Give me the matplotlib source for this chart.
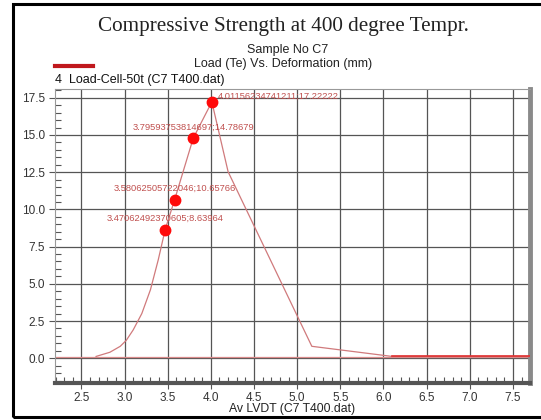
import numpy as np
import matplotlib.pyplot as plt
from matplotlib.patches import Rectangle
from matplotlib.ticker import MultipleLocator

# Load-deformation curve
deform = [2.67, 2.83, 2.95, 3.02, 3.10, 3.20, 3.30, 3.39,
          3.47062492370605, 3.58062505722046, 3.79593753814697, 4.01156234741211,
          4.20, 5.17, 6.10, 7.70]
load = [0.12, 0.40, 0.80, 1.20, 1.90, 3.00, 4.60, 6.60,
        8.63964, 10.65766, 14.78679, 17.22222,
        12.53, 0.80, 0.12, 0.12]

# picked points (marked and labelled)
pick_x = [3.47062492370605, 3.58062505722046, 3.79593753814697, 4.01156234741211]
pick_y = [8.63964, 10.65766, 14.78679, 17.22222]

baseline = 0.1

xticks = [2.5, 3.0, 3.5, 4.0, 4.5, 5.0, 5.5, 6.0, 6.5, 7.0, 7.5]
yticks = [0.0, 2.5, 5.0, 7.5, 10.0, 12.5, 15.0, 17.5]

plt.rcParams['font.family'] = ['Liberation Sans', 'DejaVu Sans']

fig = plt.figure(figsize=(5.41, 4.20), dpi=100)
ax = fig.add_axes([0.101, 0.089, 0.879, 0.698])

# outer black frame
fig.patches.append(Rectangle((0.024, 0.007), 1.05, 0.983, transform=fig.transFigure,
                             fill=False, edgecolor='black', linewidth=2.2, zorder=10))

ax.grid(True, which='major', color='#555555', linewidth=0.9, zorder=0)
ax.axhline(baseline, color='#d98a8a', linewidth=0.9, zorder=2)
ax.plot(deform, load, color='#d07a7c', linewidth=0.9, zorder=3)
ax.plot(deform[-2:], load[-2:], color='#e03030', linewidth=1.2, zorder=3)
ax.plot(pick_x, pick_y, 'o', color='#ff0a0a', markersize=7.5, zorder=4)

for i, (px, py) in enumerate(zip(pick_x, pick_y)):
    txt = f"{px!r};{py!r}"
    if i == len(pick_x) - 1:
        ax.annotate(txt, (px, py), xytext=(4.5, 4.0), textcoords='offset points',
                    ha='left', va='center', fontsize=6.75, color='#c0504f', zorder=5)
    else:
        ax.annotate(txt, (px, py), xytext=(0, 8.0), textcoords='offset points',
                    ha='center', va='center', fontsize=6.75, color='#c0504f', zorder=5)

ax.set_xlim(2.19, 7.70)
ax.set_ylim(-1.64, 18.06)
ax.set_xticks(xticks)
ax.set_yticks(yticks)
ax.set_xticklabels([f"{v:.1f}" for v in xticks])
ax.set_yticklabels([f"{v:.1f}" for v in yticks])
ax.xaxis.set_minor_locator(MultipleLocator(0.1))
ax.yaxis.set_minor_locator(MultipleLocator(0.5))
ax.tick_params(which='major', direction='out', length=4, width=0.8, color='#555555',
               labelsize=8.5, labelcolor='#333333', pad=3)
ax.tick_params(axis='x', which='major', pad=3)
ax.tick_params(which='minor', direction='in', length=4, width=0.8, color='#555555')

for side in ['left', 'top']:
    ax.spines[side].set_color('#999999')
    ax.spines[side].set_linewidth(0.8)
ax.spines['right'].set_color('#8a8a8a')
ax.spines['right'].set_linewidth(3.5)
ax.spines['bottom'].set_color('#555555')
ax.spines['bottom'].set_linewidth(3.0)

ax.set_xlabel("Av LVDT (C7 T400.dat)", fontsize=8.8, color='#222222', labelpad=-1.0)

fig.text(0.523, 0.938, "Compressive Strength at 400 degree Tempr.",
         family='Liberation Serif', fontsize=15.2, ha='center', va='center', color='#222222')
fig.text(0.532, 0.882, "Sample No C7", fontsize=9, ha='center', va='center', color='#222222')
fig.text(0.523, 0.847, "Load (Te) Vs. Deformation (mm)", fontsize=9, ha='center', va='center',
         color='#222222')

# legend-like header above the plot
fig.add_artist(plt.Line2D([0.102, 0.171], [0.842, 0.842], transform=fig.transFigure,
                          color='#c0181d', linewidth=3))
fig.text(0.102, 0.809, "4  Load-Cell-50t (C7 T400.dat)", fontsize=9, ha='left', va='center',
         color='#111111')

fig.savefig("out.png", dpi=100)
